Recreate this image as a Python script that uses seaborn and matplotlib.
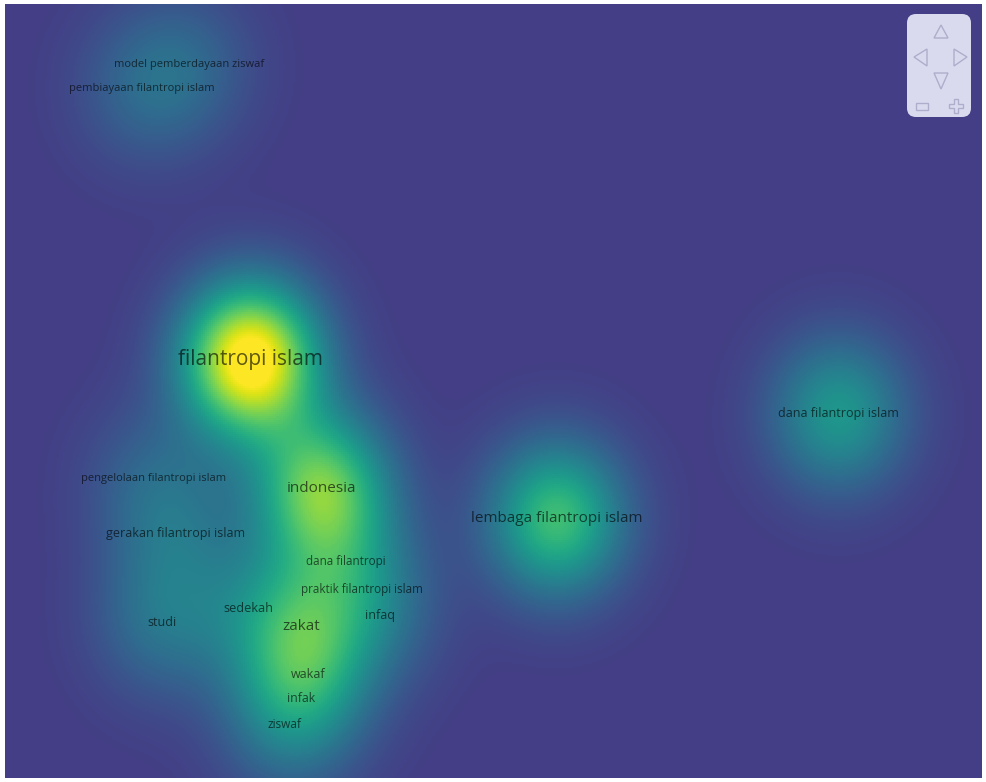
import numpy as np
import matplotlib
matplotlib.use("Agg")
import matplotlib.pyplot as plt
from matplotlib.colors import ListedColormap
from matplotlib.patches import FancyBboxPatch, Polygon, Rectangle
import seaborn as sns

sns.set_style("white")
plt.rcParams["font.family"] = ["Open Sans", "DejaVu Sans"]

# keyword map items (position in the map, pixels; density weight; label size)
labels = [
    "model pemberdayaan ziswaf", "pembiayaan filantropi islam",
    "filantropi islam", "dana filantropi islam", "lembaga filantropi islam",
    "indonesia", "pengelolaan filantropi islam", "gerakan filantropi islam",
    "dana filantropi", "praktik filantropi islam", "sedekah", "infaq",
    "zakat", "studi", "wakaf", "infak", "ziswaf",
]
pos_x = [189, 142, 250, 838, 556, 321, 153, 175, 345, 362, 248, 380, 301, 162, 308, 301, 284]
pos_y = [65, 89, 360, 414, 519, 489, 479, 534, 561, 590, 608, 616, 627, 622, 675, 699, 724]
weight = [0.14, 0.15, 1.08, 0.42, 0.62, 0.70, 0.14, 0.15, 0.13, 0.11, 0.13, 0.11, 0.33, 0.22, 0.18, 0.15, 0.15]
font_size = [8, 8, 15, 9, 11, 11, 8, 9, 8.4, 8.4, 9.2, 9, 11, 9, 9, 8.8, 8.6]

# map area in the picture
left, top, width, height = 5, 4, 977, 774
step = 2
sig_x, sig_y = 47, 53

gx = left + (np.arange(width // step) + 0.5) * step
gy = top + (np.arange(height // step) + 0.5) * step
GX, GY = np.meshgrid(gx, gy)
density = np.zeros_like(GX, dtype=float)
for x, y, w in zip(pos_x, pos_y, weight):
    density += w * np.exp(-((GX - x) ** 2 / (2 * sig_x ** 2) + (GY - y) ** 2 / (2 * sig_y ** 2)))

cmap = ListedColormap(plt.cm.viridis(np.linspace(0.18, 1.0, 256)))

fig = plt.figure(figsize=(9.87, 7.82), dpi=100)
ax = fig.add_axes([left / 987, 1 - (top + height) / 782, width / 987, height / 782])
sns.heatmap(density, cmap=cmap, vmin=0, vmax=1, cbar=False,
            xticklabels=False, yticklabels=False, ax=ax, rasterized=True)
ax.set_xlim(0, density.shape[1])
ax.set_ylim(density.shape[0], 0)
ax.set_axis_off()

for lab, x, y, fs in zip(labels, pos_x, pos_y, font_size):
    ax.text((x - left) / step, (y - top) / step, lab, ha="center", va="center",
            fontsize=fs, color="black", alpha=0.62)

# navigation widget in the top right corner
nav = fig.add_axes([906 / 987, 1 - 118 / 782, 66 / 987, 105 / 782])
nav.set_xlim(906, 972)
nav.set_ylim(118, 13)
nav.set_axis_off()
nav.add_patch(FancyBboxPatch((907, 14), 64, 103, boxstyle="round,pad=0,rounding_size=9",
                             fc="#dadaef", ec="none"))
edge = "#aeaecc"
for pts in [
    [(941, 25), (934, 38), (948, 38)],
    [(914, 57), (927, 49), (927, 66)],
    [(967, 57), (954, 49), (954, 66)],
    [(941, 89), (934, 73), (948, 73)],
]:
    nav.add_patch(Polygon(pts, closed=True, fc="none", ec=edge, lw=1))
nav.add_patch(Rectangle((916, 103), 12, 7, fc="none", ec=edge, lw=1))
plus = [(954, 99), (958, 99), (958, 104), (963, 104), (963, 108), (958, 108),
        (958, 113), (954, 113), (954, 108), (949, 108), (949, 104), (954, 104)]
nav.add_patch(Polygon(plus, closed=True, fc="none", ec=edge, lw=1))

fig.savefig("out.png", dpi=100, facecolor="white")
